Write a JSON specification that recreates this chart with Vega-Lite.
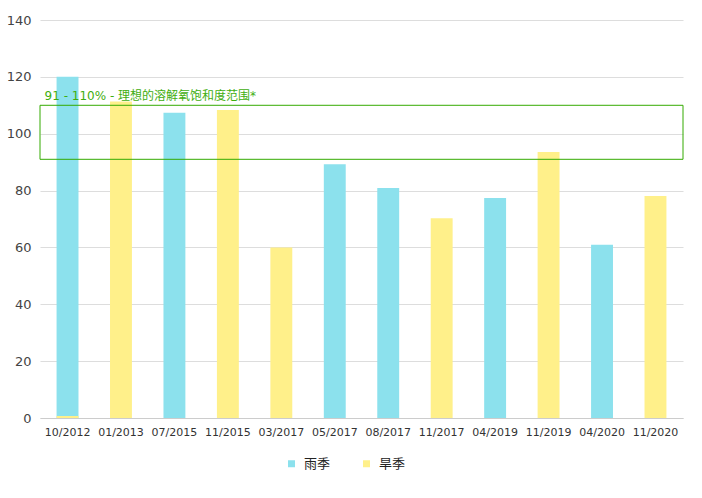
{
  "$schema": "https://vega.github.io/schema/vega-lite/v6.json",
  "width": 643,
  "height": 398,
  "autosize": {"type": "none"},
  "padding": {"left": 40, "top": 20, "right": 19, "bottom": 80},
  "background": "white",
  "config": {
    "view": {"stroke": null},
    "font": "DejaVu Sans",
    "axis": {"labelFont": "DejaVu Sans", "titleFont": "DejaVu Sans"}
  },
  "layer": [
    {
      "data": {
        "values": [
          {"date": "10/2012", "season": "雨季", "value": 120},
          {"date": "10/2012", "season": "旱季", "value": 0.7},
          {"date": "01/2013", "season": "旱季", "value": 111.3},
          {"date": "07/2015", "season": "雨季", "value": 107.4},
          {"date": "11/2015", "season": "旱季", "value": 108.3},
          {"date": "03/2017", "season": "旱季", "value": 60},
          {"date": "05/2017", "season": "雨季", "value": 89.3},
          {"date": "08/2017", "season": "雨季", "value": 80.9},
          {"date": "11/2017", "season": "旱季", "value": 70.3},
          {"date": "04/2019", "season": "雨季", "value": 77.4},
          {"date": "11/2019", "season": "旱季", "value": 93.6},
          {"date": "04/2020", "season": "雨季", "value": 60.9},
          {"date": "11/2020", "season": "旱季", "value": 78.1}
        ]
      },
      "mark": {"type": "bar"},
      "encoding": {
        "x": {
          "field": "date",
          "type": "nominal",
          "sort": null,
          "scale": {"paddingInner": 0.59, "paddingOuter": 0.31},
          "axis": {
            "title": null,
            "labelAngle": 0,
            "labelFontSize": 11,
            "labelColor": "#333333",
            "labelPadding": 8,
            "ticks": false,
            "domainColor": "#cccccc"
          }
        },
        "y": {
          "field": "value",
          "type": "quantitative",
          "stack": null,
          "scale": {"domain": [0, 140], "nice": false},
          "axis": {
            "title": null,
            "values": [0, 20, 40, 60, 80, 100, 120, 140],
            "labelFontSize": 13,
            "labelColor": "#444444",
            "labelPadding": 9,
            "ticks": false,
            "domain": false,
            "gridColor": "#dddddd"
          }
        },
        "color": {
          "field": "season",
          "type": "nominal",
          "scale": {"domain": ["雨季", "旱季"], "range": ["#8ce1ed", "#fff08a"]},
          "legend": {
            "title": null,
            "orient": "none",
            "direction": "horizontal",
            "legendX": 245,
            "legendY": 437,
            "symbolType": "square",
            "symbolSize": 49,
            "symbolStrokeWidth": 0,
            "labelFont": "Noto Sans CJK SC",
            "labelFontSize": 13,
            "labelColor": "#222222",
            "labelOffset": 6,
            "columnPadding": 29
          }
        }
      }
    },
    {
      "data": {"values": [{"low": 91, "high": 110}]},
      "mark": {"type": "rect", "fill": null, "stroke": "#33aa00", "strokeWidth": 1},
      "encoding": {
        "y": {"field": "low", "type": "quantitative"},
        "y2": {"field": "high"}
      }
    },
    {
      "data": {"values": [{"label": "91 - 110% - 理想的溶解氧饱和度范围*", "y": 113.3}]},
      "mark": {
        "type": "text",
        "align": "left",
        "baseline": "middle",
        "color": "#3fae0f",
        "fontSize": 12,
        "font": "DejaVu Sans, Noto Sans CJK SC",
        "dx": -12
      },
      "encoding": {
        "x": {"datum": "10/2012", "bandPosition": 0},
        "y": {"field": "y", "type": "quantitative"},
        "text": {"field": "label"}
      }
    }
  ]
}
